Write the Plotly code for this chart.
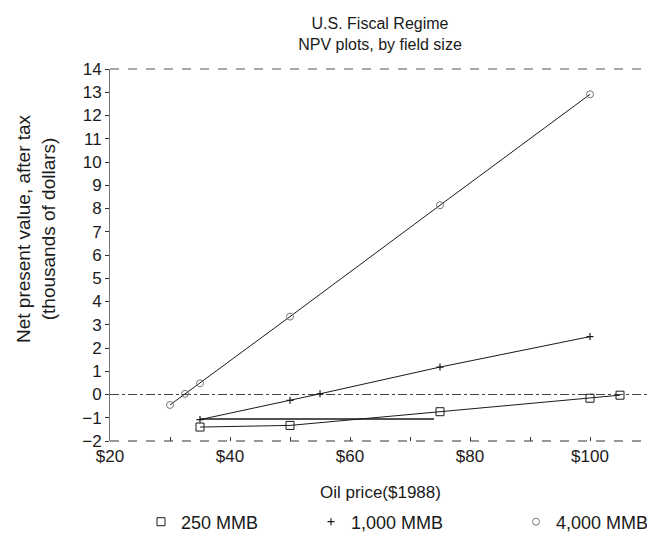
import plotly.graph_objects as go

# Oil price ($1988) and NPV after tax (thousands of dollars)
price_250 = [35, 50, 75, 100, 105]
npv_250 = [-1.40, -1.33, -0.74, -0.16, -0.03]

price_1000 = [35, 50, 55, 75, 100]
npv_1000 = [-1.08, -0.25, 0.03, 1.18, 2.49]

price_4000 = [30, 32.5, 35, 50, 75, 100]
npv_4000 = [-0.45, 0.03, 0.48, 3.35, 8.14, 12.91]

# stray horizontal rule printed in the original
stray_x = [35, 74]
stray_y = [-1.05, -1.05]

x_tickvals = [20, 30, 40, 50, 60, 70, 80, 90, 100]
x_ticktext = ["$20", "", "$40", "", "$60", "", "$80", "", "$100"]

FONT = "Liberation Sans Narrow, Liberation Sans, Arial, sans-serif"
INK = "#1a1a1a"

# plot box in page pixels (the page body adds an 8px offset)
L, T, W, H = 102, 61, 540, 372

fig = go.Figure()

series = [
    ("250 MMB", price_250, npv_250, "legend",
     dict(symbol="square-open", size=8, color=INK, line=dict(width=1))),
    ("1,000 MMB", price_1000, npv_1000, "legend2",
     dict(symbol="cross-thin-open", size=5, color=INK, line=dict(width=1.2))),
    ("4,000 MMB", price_4000, npv_4000, "legend3",
     dict(symbol="circle-open", size=7, color="#777777", line=dict(width=1))),
]

for name, xs, ys, leg, mk in series:
    fig.add_trace(go.Scatter(x=xs, y=ys, mode="lines", line=dict(color=INK, width=1),
                             showlegend=False, hoverinfo="skip"))
    fig.add_trace(go.Scatter(x=xs, y=ys, mode="markers", name=name, marker=mk, legend=leg))

fig.add_trace(go.Scatter(x=stray_x, y=stray_y, mode="lines", line=dict(color=INK, width=1.5),
                         showlegend=False, hoverinfo="skip"))

# frame: dashed top / right / bottom, dashed zero line
fig.add_shape(type="line", xref="paper", yref="paper", x0=0, x1=1, y0=1, y1=1,
              line=dict(color="#555555", width=1, dash="dash"))
fig.add_shape(type="line", xref="paper", yref="paper", x0=1, x1=1, y0=0.55, y1=1,
              line=dict(color="#999999", width=1, dash="dot"))
fig.add_shape(type="line", xref="paper", yref="paper", x0=0, x1=1, y0=0, y1=0,
              line=dict(color="#333333", width=1.2, dash="dash"))
fig.add_shape(type="line", xref="paper", yref="y", x0=0, x1=1, y0=0, y1=0,
              line=dict(color="#444444", width=1, dash="dashdot"), layer="below")

leg_y = (440 - 521) / 372
leg_common = dict(orientation="h", xanchor="left", y=leg_y, yanchor="middle",
                  font=dict(size=18), bgcolor="rgba(0,0,0,0)")

fig.update_layout(
    width=655,
    height=545,
    margin=dict(l=L, r=655 - L - W, t=T, b=545 - T - H, autoexpand=False),
    paper_bgcolor="white",
    plot_bgcolor="white",
    font=dict(family=FONT, size=16, color=INK),
    title=dict(text="U.S. Fiscal Regime<br>NPV plots, by field size",
               x=0.5, xref="paper", xanchor="center",
               y=1 - 21 / 545, yanchor="middle", font=dict(size=16)),
    showlegend=True,
    legend=dict(x=(141 - 110) / W, **leg_common),
    legend2=dict(x=(311 - 110) / W, **leg_common),
    legend3=dict(x=(516 - 110) / W, **leg_common),
)

fig.update_xaxes(
    range=[20, 110],
    tickvals=x_tickvals,
    ticktext=x_ticktext,
    ticks="inside",
    ticklen=4,
    tickcolor="#333333",
    showgrid=False,
    zeroline=False,
    showline=False,
    ticklabelstandoff=3,
    tickfont=dict(size=17),
)
fig.update_yaxes(
    range=[-2, 14],
    dtick=1,
    ticks="outside",
    ticklen=4,
    tickcolor="#333333",
    showgrid=False,
    zeroline=False,
    showline=True,
    linecolor="#777777",
    linewidth=1,
    tickfont=dict(size=17),
)

fig.add_annotation(text="Oil price($1988)", xref="paper", yref="paper",
                   x=0.5, xanchor="center", y=(440 - 491) / 372, yanchor="middle",
                   showarrow=False, font=dict(size=17))
fig.add_annotation(text="Net present value, after tax<br>(thousands of dollars)",
                   xref="paper", yref="paper", textangle=-90,
                   x=(36 - 110) / W, xanchor="center", y=(440 - 228) / 372, yanchor="middle",
                   showarrow=False, font=dict(size=19))

fig.write_html("out.html")
